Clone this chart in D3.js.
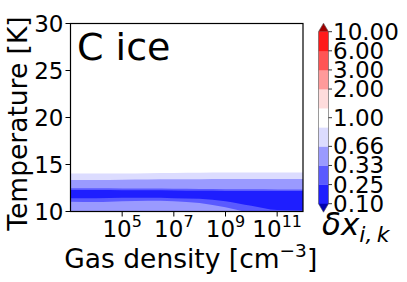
<!DOCTYPE html>
<html><head><meta charset="utf-8">
<script src="https://cdn.jsdelivr.net/npm/d3@7"></script>
<style>body{margin:0;background:#fff} svg{display:block} text{font-family:"DejaVu Sans",sans-serif;fill:#000}</style>
</head><body><svg id="c" width="407" height="282"></svg>
<script>
// ---- data ----
const logDensity = [3, 4, 5, 6, 7, 8, 9, 10, 11, 12];
// contour boundaries in Temperature [K] per density
const t090Upper = [14.05, 14.05, 14.05, 14.08, 14.10, 14.12, 14.15, 14.15, 14.15, 14.15];
const t066Upper = [13.35, 13.35, 13.38, 13.40, 13.42, 13.44, 13.46, 13.46, 13.46, 13.46];
const t033Upper = [12.47, 12.47, 12.45, 12.45, 12.42, 12.40, 12.38, 12.36, 12.35, 12.35];
const t025Upper = [12.29, 12.29, 12.27, 12.25, 12.23, 12.20, 12.18, 12.17, 12.17, 12.17];
const t025Lower = [11.40, 11.40, 11.45, 11.45, 11.42, 11.35, 11.10, 10.60, 10.15, 10.10];
const t033Lower = [11.05, 11.00, 11.10, 11.15, 11.10, 10.90, 10.45, 9.90, 9.80, 9.80];

const cbLevels = [0.10, 0.25, 0.33, 0.66, 0.90, 1.10, 2.00, 3.00, 6.00, 10.00];
const cbColors = ["#1e1eff", "#5a5aff", "#9a9aff", "#dcdcff", "#ffffff", "#ffdcdc", "#ff9a9a", "#ff5555", "#ff1a1a"];
const cbUnder = "#0000b0", cbOver = "#a00000";
const cbTicks = [0.10, 0.25, 0.33, 0.66, 1.00, 2.00, 3.00, 6.00, 10.00];
const xTickExps = [5, 7, 9, 11];
const yTicks = [10, 15, 20, 25, 30];
const title = "C ice";

// ---- layout ----
const svg = d3.select("#c");
const L = 70.5, R = 303, T = 23.5, B = 211.5;
const x = d3.scaleLog().domain([1e3, 1e12]).range([L, R]);
const y = d3.scaleLinear().domain([10, 30]).range([B, T]);

svg.append("clipPath").attr("id", "clip").append("rect")
  .attr("x", L).attr("y", T).attr("width", R - L).attr("height", B - T);

const g = svg.append("g").attr("clip-path", "url(#clip)");
const rows = logDensity.map((d, i) => ({ n: Math.pow(10, d), i }));
function band(lower, upper, color) {
  const a = d3.area().curve(d3.curveMonotoneX)
    .x(d => x(d.n))
    .y0(d => lower ? y(lower[d.i]) : y(9.5))
    .y1(d => y(upper[d.i]));
  g.append("path").datum(rows).attr("d", a).attr("fill", color);
}
band(null, t090Upper, cbColors[3]);
band(null, t066Upper, cbColors[2]);
band(t033Lower, t033Upper, cbColors[1]);
band(t025Lower, t025Upper, cbColors[0]);

// frame
svg.append("rect").attr("x", L).attr("y", T).attr("width", R - L).attr("height", B - T)
  .attr("fill", "none").attr("stroke", "#000").attr("stroke-width", 1.2);

// y axis
const yAx = svg.append("g");
yTicks.forEach(t => {
  yAx.append("line").attr("x1", L - 5).attr("x2", L).attr("y1", y(t)).attr("y2", y(t)).attr("stroke", "#000").attr("stroke-width", 1);
  yAx.append("text").attr("x", L - 7).attr("y", y(t)).attr("text-anchor", "end")
    .attr("dominant-baseline", "central").attr("font-size", 23).text(t);
});
// x axis
const xAx = svg.append("g");
xTickExps.forEach(e => {
  const px = x(Math.pow(10, e));
  xAx.append("line").attr("x1", px).attr("x2", px).attr("y1", B).attr("y2", B + 5).attr("stroke", "#000").attr("stroke-width", 1);
  const t = xAx.append("text").attr("x", px).attr("y", B + 25).attr("text-anchor", "middle").attr("font-size", 23);
  t.append("tspan").text("10");
  t.append("tspan").attr("dy", -10).attr("font-size", 16).text(e);
});

// axis labels
svg.append("text").attr("transform", `translate(27,${(T + B) / 2 + 6}) rotate(-90)`)
  .attr("text-anchor", "middle").attr("font-size", 26.5).text("Temperature [K]");
const xl = svg.append("text").attr("x", (L + R) / 2 + 4).attr("y", 268).attr("text-anchor", "middle").attr("font-size", 26.5);
xl.append("tspan").text("Gas density [cm");
xl.append("tspan").attr("dy", -11).attr("font-size", 18.5).text("\u22123");
xl.append("tspan").attr("dy", 11).text("]");

// title
svg.append("text").attr("x", 77).attr("y", 60).attr("font-size", 38).text(title);

// ---- colorbar ----
const cx0 = 318.5, cx1 = 328.5, cTop = 31.7, cBot = 203.7;
const cy = d3.scaleLinear().domain(cbLevels)
  .range(cbLevels.map((d, i) => cBot - i * (cBot - cTop) / (cbLevels.length - 1)));
const cb = svg.append("g");
cbColors.forEach((c, i) => {
  cb.append("rect").attr("x", cx0).attr("width", cx1 - cx0)
    .attr("y", cy(cbLevels[i + 1])).attr("height", cy(cbLevels[i]) - cy(cbLevels[i + 1]) + 0.3)
    .attr("fill", c);
});
const tri = 8.5, mid = (cx0 + cx1) / 2;
cb.append("path").attr("d", `M${cx0},${cTop}L${mid},${cTop - tri}L${cx1},${cTop}Z`).attr("fill", cbOver);
cb.append("path").attr("d", `M${cx0},${cBot}L${mid},${cBot + tri}L${cx1},${cBot}Z`).attr("fill", cbUnder);
cb.append("path").attr("d", `M${cx0},${cTop}L${mid},${cTop - tri}L${cx1},${cTop}L${cx1},${cBot}L${mid},${cBot + tri}L${cx0},${cBot}Z`)
  .attr("fill", "none").attr("stroke", "#555").attr("stroke-width", 0.6);
const fmt = d3.format(".2f");
cbTicks.forEach(v => {
  cb.append("line").attr("x1", cx1).attr("x2", cx1 + 3.5).attr("y1", cy(v)).attr("y2", cy(v)).attr("stroke", "#000").attr("stroke-width", 0.8);
  cb.append("text").attr("x", cx1 + 4.5).attr("y", cy(v)).attr("dominant-baseline", "central")
    .attr("font-size", 23).text(fmt(v));
});
// colorbar label
const dl = svg.append("text").attr("x", 322).attr("y", 235).attr("font-size", 31).attr("font-style", "italic");
dl.append("tspan").text("\u03b4x");
dl.append("tspan").attr("dy", 7).attr("font-size", 22).text("i,\u2009k");
</script></body></html>
